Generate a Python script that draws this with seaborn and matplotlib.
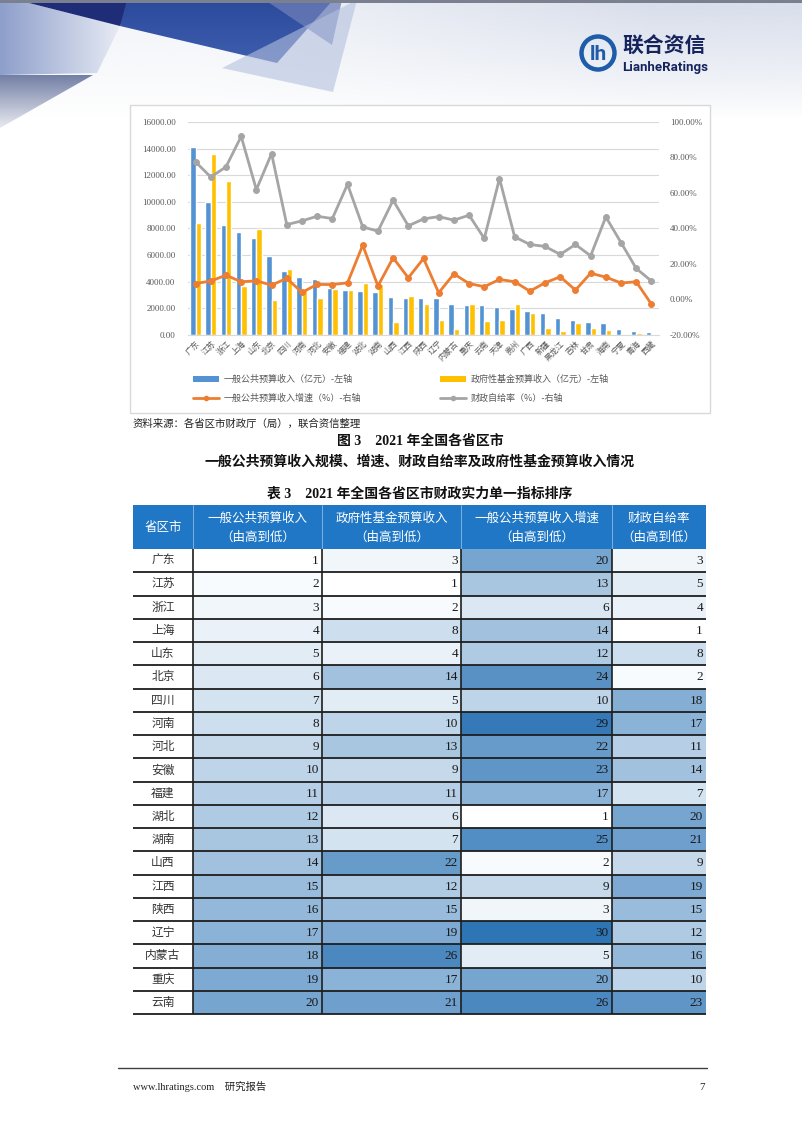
import numpy as np
import pandas as pd
import matplotlib
matplotlib.use("Agg")
import matplotlib.pyplot as plt
from matplotlib.patches import Polygon, Rectangle, Patch, Circle
from matplotlib.lines import Line2D
from matplotlib.colors import LinearSegmentedColormap, to_rgb
import seaborn as sns

# ---------------- data ----------------
provs = ['广东', '江苏', '浙江', '上海', '山东', '北京', '四川', '河南', '河北', '安徽',
         '福建', '湖北', '湖南', '山西', '江西', '陕西', '辽宁', '内蒙古', '重庆', '云南',
         '天津', '贵州', '广西', '新疆', '黑龙江', '吉林', '甘肃', '海南', '宁夏', '青海', '西藏']
general_rev = [14100, 10010, 8260, 7770, 7280, 5930, 4770, 4350, 4170, 3500,
               3380, 3280, 3250, 2830, 2810, 2780, 2770, 2350, 2290, 2280,
               2140, 1970, 1800, 1620, 1300, 1140, 1000, 920, 460, 330, 215]
fund_rev = [8450, 13600, 11600, 3700, 7950, 2650, 4950, 3420, 2800, 3480,
            3350, 3900, 3800, 950, 2900, 2350, 1150, 480, 2300, 1050,
            1120, 2330, 1680, 560, 330, 875, 540, 350, 100, 130, 50]
growth = [9.0, 10.4, 13.7, 10.0, 10.5, 8.1, 11.9, 4.0, 8.5, 8.4,
          9.4, 30.6, 7.6, 23.5, 12.2, 23.1, 3.8, 14.4, 9.0, 7.2,
          11.3, 10.0, 4.7, 9.4, 12.8, 5.3, 14.8, 12.6, 9.3, 10.0, -2.6]
self_suff = [77.5, 69.0, 74.7, 91.9, 61.9, 82.2, 42.2, 44.3, 46.9, 45.6,
             64.9, 40.9, 38.5, 55.9, 41.5, 45.4, 46.7, 44.7, 47.5, 34.4,
             68.1, 35.3, 31.0, 29.9, 25.4, 31.0, 24.6, 46.5, 32.1, 17.5, 10.4]

left_ticks = [0, 2000, 4000, 6000, 8000, 10000, 12000, 14000, 16000]
right_ticks = [-20, 0, 20, 40, 60, 80, 100]

series_names = ['一般公共预算收入（亿元）-左轴', '政府性基金预算收入（亿元）-左轴',
                '一般公共预算收入增速（%）-右轴', '财政自给率（%）-右轴']

table_provs = ['广东', '江苏', '浙江', '上海', '山东', '北京', '四川', '河南', '河北', '安徽',
               '福建', '湖北', '湖南', '山西', '江西', '陕西', '辽宁', '内蒙古', '重庆', '云南']
rank_general = [1, 2, 3, 4, 5, 6, 7, 8, 9, 10, 11, 12, 13, 14, 15, 16, 17, 18, 19, 20]
rank_fund = [3, 1, 2, 8, 4, 14, 5, 10, 13, 9, 11, 6, 7, 22, 12, 15, 19, 26, 17, 21]
rank_growth = [20, 13, 6, 14, 12, 24, 10, 29, 22, 23, 17, 1, 25, 2, 9, 3, 30, 5, 20, 26]
rank_self = [3, 5, 4, 1, 8, 2, 18, 17, 11, 14, 7, 20, 21, 9, 19, 15, 12, 16, 10, 23]
table_header = [['省区市'], ['一般公共预算收入', '（由高到低）'], ['政府性基金预算收入', '（由高到低）'],
                ['一般公共预算收入增速', '（由高到低）'], ['财政自给率', '（由高到低）']]

# ---------------- style ----------------
sns.set_style('white')
plt.rcParams['font.family'] = ['Liberation Serif', 'Noto Sans CJK SC', 'DejaVu Sans']
plt.rcParams['axes.unicode_minus'] = False
CJK = ['Noto Sans CJK SC', 'DejaVu Sans']
SERIF = ['Liberation Serif', 'Noto Sans CJK SC']

BLUE = '#5393D3'
YELLOW = '#FFC000'
ORANGE = '#ED7D31'
GREY = '#A5A5A5'
TICK = '#595959'

W, H = 802, 1133
fig = plt.figure(figsize=(W / 100, H / 100), dpi=100)


def px(x0, y0, x1, y1):
    return [x0 / W, 1 - y1 / H, (x1 - x0) / W, (y1 - y0) / H]


# ---------------- background / header ----------------
bg = fig.add_axes([0, 0, 1, 1], zorder=0)
bg.set_axis_off()


def grad_poly(ax, verts, c1, c2, z=1, alpha=1.0, horizontal=False):
    poly = Polygon(verts, closed=True, fc='none', ec='none')
    ax.add_patch(poly)
    xs = [v[0] for v in verts]
    ys = [v[1] for v in verts]
    t = np.linspace(0, 1, 64)
    a = np.array(to_rgb(c1))
    b = np.array(to_rgb(c2))
    col = a[None, :] * (1 - t)[:, None] + b[None, :] * t[:, None]
    if horizontal:
        arr = np.repeat(col[None, :, :], 2, axis=0)
    else:
        arr = np.repeat(col[:, None, :], 2, axis=1)
    im = ax.imshow(arr, extent=(min(xs), max(xs), max(ys), min(ys)), aspect='auto',
                   interpolation='bilinear', zorder=z, alpha=alpha)
    im.set_clip_path(poly)


# soft light grey-blue wash behind the header
gx = np.linspace(0, W, 200)
gy = np.linspace(0, 125, 60)
GX, GY = np.meshgrid(gx, gy)
alpha = np.clip(1 - GY / 118, 0, 1) ** 0.8 * (0.35 + 0.65 * np.clip((GX - 200) / 450, 0, 1))
wash = np.zeros((len(gy), len(gx), 4))
wash[..., :3] = np.array([216, 222, 235]) / 255
wash[..., 3] = alpha
bg.imshow(wash, extent=(0, W, 125, 0), aspect='auto', interpolation='bilinear', zorder=0.5)

# left light panel
grad_poly(bg, [(0, 0), (17, 0), (120, 26), (97, 73), (0, 75)], '#8E9FCB', '#E6EAF4', z=1, horizontal=True)
# lower-left grey panel
grad_poly(bg, [(0, 75), (93, 75), (0, 128)], '#737FA5', '#E8EAF0', z=1)
# dark navy triangle
bg.add_patch(Polygon([(17, 0), (133, 0), (120, 26)], closed=True, fc='#1F2C78', ec='none', zorder=2))
# medium blue quad
grad_poly(bg, [(127, 0), (333, 0), (277, 63), (120, 26)], '#2C4A9C', '#3E5EAE', z=2)
# translucent triangles on the right
bg.add_patch(Polygon([(265, 0), (342, 0), (332, 45)], closed=True, fc='#6E7FB8', ec='none', alpha=0.75, zorder=3))
bg.add_patch(Polygon([(357, 0), (222, 68), (333, 92)], closed=True, fc='#B4C0DE', ec='none', alpha=0.6, zorder=3))
# top thin bar
bg.add_patch(Rectangle((0, 0), W, 2.5, fc='#7A8090', ec='none', zorder=4))

# logo
bg.add_patch(Circle((598, 53), 16.5, fc='none', ec='#1E5BA8', lw=3.2, zorder=5))
bg.text(598, 54, 'lh', ha='center', va='center', fontsize=15, fontweight='bold', color='#1E5BA8',
        family=['Roboto', 'DejaVu Sans'], zorder=6)
bg.text(622, 46, '联合资信', ha='left', va='center', fontsize=15, fontweight='bold', color='#16245E',
        family=CJK, zorder=6)
bg.text(622, 67, 'LianheRatings', ha='left', va='center', fontsize=9.5, fontweight='bold', color='#16245E',
        family=['Liberation Sans Narrow', 'Roboto', 'DejaVu Sans'], zorder=6)

# chart frame
bg.add_patch(Rectangle((130, 105), 580, 308, fc='white', ec='#D9D9D9', lw=1, zorder=6))

bg.set_xlim(0, W)
bg.set_ylim(H, 0)

# ---------------- combo chart ----------------
ax = fig.add_axes(px(188, 122, 659, 335), zorder=2)
ax.set_facecolor('none')
df_bar = pd.DataFrame({
    'prov': provs * 2,
    'series': [series_names[0]] * len(provs) + [series_names[1]] * len(provs),
    'value': general_rev + fund_rev,
})
sns.barplot(data=df_bar, x='prov', y='value', hue='series', order=provs,
            hue_order=series_names[:2], palette=[BLUE, YELLOW], saturation=1,
            width=0.72, ax=ax, legend=False)
ax.set_ylim(0, 16000)
ax.set_yticks(left_ticks)
ax.set_yticklabels([f'{v:.2f}' for v in left_ticks], fontsize=6.5, color=TICK, family=SERIF)
ax.grid(axis='y', color='#D9D9D9', lw=0.8)
ax.set_axisbelow(True)
for s in ['top', 'left', 'right']:
    ax.spines[s].set_visible(False)
ax.spines['bottom'].set_color('#D9D9D9')
ax.tick_params(axis='both', length=0)
ax.tick_params(axis='y', pad=9)
ax.set_xlabel('')
ax.set_ylabel('')

ax2 = ax.twinx()
xs = np.arange(len(provs))
sns.lineplot(x=xs, y=growth, ax=ax2, color=ORANGE, lw=2, marker='o', markersize=4.2,
             markeredgecolor=ORANGE, legend=False)
sns.lineplot(x=xs, y=self_suff, ax=ax2, color=GREY, lw=2, marker='o', markersize=4.2,
             markeredgecolor=GREY, legend=False)
ax2.set_ylim(-20, 100)
ax2.set_yticks(right_ticks)
ax2.set_yticklabels([f'{v:.2f}%' for v in right_ticks], fontsize=6.5, color=TICK, family=SERIF)
ax2.tick_params(length=0, pad=8)
for s in ['top', 'left', 'right', 'bottom']:
    ax2.spines[s].set_visible(False)
ax2.set_xlabel('')
ax2.set_ylabel('')
ax2.grid(False)
ax.set_xlim(-0.5, len(provs) - 0.5)
ax.set_xticks(xs)
ax.set_xticklabels(provs, rotation=45, ha='right', rotation_mode='anchor',
                   fontsize=5.8, color=TICK, family=CJK)
ax.tick_params(axis='x', pad=3)

# legends
bar_handles = [Patch(fc=BLUE, ec='none'), Patch(fc=YELLOW, ec='none')]
line_handles = [Line2D([], [], color=ORANGE, lw=2, marker='o', markersize=3),
                Line2D([], [], color=GREY, lw=2, marker='o', markersize=3)]
leg_kw = dict(frameon=False, handlelength=2.9, handleheight=0.55,
              handletextpad=0.5, labelspacing=1.05, borderpad=0, borderaxespad=0,
              loc='upper left', labelcolor=TICK, prop={'family': CJK, 'size': 6.5})
fig.legend([bar_handles[0], line_handles[0]], [series_names[0], series_names[2]],
           bbox_to_anchor=(193 / W, 1 - 375 / H), **leg_kw)
fig.legend([bar_handles[1], line_handles[1]], [series_names[1], series_names[3]],
           bbox_to_anchor=(440 / W, 1 - 375 / H), **leg_kw)

# ---------------- table (heatmaps) ----------------
xb = [133, 193, 322, 461, 612, 706]
y_top = 549
row_h = 23.25
y_bot = y_top + row_h * len(table_provs)
cmap = LinearSegmentedColormap.from_list('rank', ['#FFFFFF', '#2E75B6'])
rank_cols = [rank_general, rank_fund, rank_growth, rank_self]
for j, col in enumerate(rank_cols):
    axh = fig.add_axes(px(xb[j + 1], y_top, xb[j + 2], y_bot), zorder=2)
    sns.heatmap(pd.DataFrame({'r': col}), ax=axh, cmap=cmap, vmin=1, vmax=30, cbar=False,
                xticklabels=False, yticklabels=False, linewidths=0)
    axh.set_xlabel('')
    axh.set_ylabel('')

# ---------------- overlay: texts & lines ----------------
ov = fig.add_axes([0, 0, 1, 1], zorder=5)
ov.set_facecolor('none')
ov.set_axis_off()
ov.set_xlim(0, W)
ov.set_ylim(H, 0)

ov.text(133, 424, '资料来源：各省区市财政厅（局），联合资信整理', ha='left', va='center',
        fontsize=7.5, color='#222222', family=CJK)
ov.text(420, 441, '图 3    2021 年全国各省区市', ha='center', va='center', fontsize=10,
        fontweight='bold', color='#111111', family=SERIF)
ov.text(420, 462, '一般公共预算收入规模、增速、财政自给率及政府性基金预算收入情况', ha='center',
        va='center', fontsize=10, fontweight='bold', color='#111111', family=CJK)
ov.text(420, 494, '表 3    2021 年全国各省区市财政实力单一指标排序', ha='center', va='center',
        fontsize=10, fontweight='bold', color='#111111', family=SERIF)

# header
ov.add_patch(Rectangle((xb[0], 505), xb[-1] - xb[0], y_top - 505, fc='#1F77C6', ec='none'))
for j, lines in enumerate(table_header):
    cx = (xb[j] + xb[j + 1]) / 2
    if len(lines) == 1:
        ov.text(cx, 527, lines[0], ha='center', va='center', fontsize=9, color='white', family=CJK)
    else:
        ov.text(cx, 518, lines[0], ha='center', va='center', fontsize=9, color='white', family=CJK)
        ov.text(cx, 537.5, lines[1], ha='center', va='center', fontsize=9, color='white', family=CJK)
for x in xb[1:-1]:
    ov.plot([x, x], [505, y_top], color='#8DB8E2', lw=0.6)

# body
for i, name in enumerate(table_provs):
    cy = y_top + row_h * (i + 0.5)
    ov.text((xb[0] + xb[1]) / 2, cy, name, ha='center', va='center', fontsize=8.5,
            color='#333333', family=CJK)
    for j, col in enumerate(rank_cols):
        ov.text(xb[j + 2] - 3, cy + 0.5, str(col[i]), ha='right', va='center', fontsize=9.5,
                color='#1A1A1A', family=SERIF)
for k in range(1, len(table_provs) + 1):
    y = y_top + row_h * k
    ov.plot([xb[0], xb[-1]], [y, y], color='#1E1E1E', lw=1.3, solid_capstyle='butt')
for x in xb[1:-1]:
    ov.plot([x, x], [y_top, y_bot], color='#1E1E1E', lw=1.2, solid_capstyle='butt')

# footer
ov.plot([118, 707], [1068, 1068], color='#404040', lw=1)
ov.text(133, 1087, 'www.lhratings.com    研究报告', ha='left', va='center', fontsize=7.5,
        color='#222222', family=SERIF)
ov.text(705, 1087, '7', ha='right', va='center', fontsize=8, color='#222222', family=SERIF)

fig.savefig('out.png', dpi=100)
